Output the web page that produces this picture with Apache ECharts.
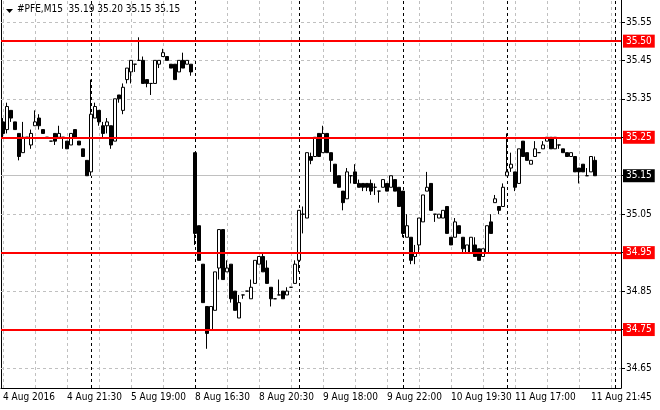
<!DOCTYPE html>
<html>
<head>
<meta charset="utf-8">
<script src="https://cdn.jsdelivr.net/npm/echarts@6/dist/echarts.min.js"></script>
<style>
html,body{margin:0;padding:0;background:#fff;}
#main{width:660px;height:410px;}
</style>
</head>
<body>
<div id="main"></div>
<script>
// 每根K线: [开盘, 收盘, 最低, 最高]  (M15)
var aug4 = [
  [35.29,35.26,35.25,35.30],[35.27,35.33,35.26,35.34],[35.32,35.30,35.29,35.32],[35.29,35.27,35.27,35.29],
  [35.26,35.20,35.19,35.26],[35.21,35.25,35.21,35.29],[35.25,35.25,35.25,35.25],[35.23,35.26,35.22,35.27],
  [35.28,35.29,35.28,35.32],[35.30,35.28,35.27,35.31],[35.27,35.26,35.26,35.27],[35.25,35.25,35.25,35.25],
  [35.24,35.24,35.24,35.24],[35.26,35.24,35.23,35.26],[35.25,35.26,35.25,35.28],[35.25,35.25,35.22,35.25],
  [35.24,35.22,35.22,35.24],[35.23,35.26,35.23,35.26],[35.27,35.25,35.25,35.27],[35.24,35.23,35.23,35.24],
  [35.22,35.20,35.20,35.22],[35.19,35.15,35.15,35.19]
];
var aug5 = [
  [35.16,35.31,35.15,35.40],[35.30,35.33,35.30,35.34],[35.32,35.29,35.28,35.32],[35.28,35.26,35.25,35.29],
  [35.28,35.29,35.26,35.30],[35.28,35.23,35.22,35.28],[35.24,35.35,35.24,35.35],[35.36,35.35,35.34,35.36],
  [35.32,35.38,35.31,35.39],[35.40,35.43,35.39,35.43],[35.42,35.45,35.39,35.45],[35.44,35.44,35.42,35.44],
  [35.45,35.45,35.45,35.51],[35.45,35.39,35.39,35.46],[35.40,35.39,35.38,35.40],[35.39,35.39,35.36,35.39],
  [35.39,35.45,35.39,35.45],[35.44,35.45,35.43,35.45],[35.46,35.47,35.46,35.48],[35.46,35.45,35.45,35.46],
  [35.44,35.43,35.43,35.44],[35.44,35.40,35.40,35.44],[35.42,35.45,35.42,35.45],[35.45,35.43,35.43,35.47],
  [35.44,35.45,35.44,35.45],[35.44,35.42,35.41,35.44]
];
var aug8 = [
  [35.21,35.00,34.97,35.21],[35.02,34.93,34.93,35.02],[34.92,34.82,34.82,34.92],[34.81,34.74,34.70,34.81],
  [34.75,34.81,34.75,34.81],[34.80,34.90,34.80,34.90],[34.91,35.01,34.88,35.01],[35.01,34.88,34.88,35.01],
  [34.90,34.91,34.90,34.93],[34.92,34.83,34.82,34.92],[34.85,34.80,34.80,34.85],[34.78,34.82,34.78,34.84],
  [34.84,34.84,34.83,34.84],[34.85,34.85,34.85,34.85],[34.83,34.86,34.83,34.88],[34.87,34.93,34.87,34.93],
  [34.92,34.94,34.92,34.94],[34.94,34.90,34.90,34.95],[34.91,34.87,34.87,34.93],[34.86,34.83,34.81,34.86],
  [34.83,34.83,34.83,34.83],[34.84,34.84,34.84,34.88],[34.85,34.83,34.83,34.85],[34.84,34.85,34.84,34.86],
  [34.86,34.86,34.86,34.86],[34.87,34.92,34.87,34.93]
];
var aug9 = [
  [34.93,35.06,34.90,35.06],[35.05,35.05,35.00,35.07],[35.04,35.21,35.04,35.21],[35.20,35.19,35.18,35.21],
  [35.20,35.25,35.20,35.25],[35.26,35.20,35.20,35.26],[35.21,35.26,35.21,35.28],[35.26,35.21,35.21,35.26],
  [35.21,35.19,35.16,35.21],[35.18,35.13,35.13,35.18],[35.15,35.12,35.12,35.15],[35.11,35.08,35.06,35.11],
  [35.09,35.16,35.09,35.17],[35.15,35.15,35.13,35.15],[35.16,35.13,35.13,35.18],[35.13,35.12,35.12,35.14],
  [35.13,35.12,35.11,35.13],[35.13,35.12,35.11,35.13],[35.13,35.11,35.10,35.14],[35.12,35.12,35.10,35.13],
  [35.11,35.11,35.08,35.11],[35.12,35.14,35.12,35.14],[35.13,35.11,35.11,35.13],[35.12,35.15,35.12,35.15],
  [35.14,35.11,35.11,35.14],[35.12,35.07,35.07,35.12]
];
var aug10 = [
  [35.11,35.00,34.99,35.11],[34.99,35.02,34.99,35.05],[34.99,34.93,34.92,34.99],[34.94,34.95,34.92,34.97],
  [34.97,35.04,34.95,35.04],[35.03,35.10,35.03,35.10],[35.11,35.12,35.11,35.16],[35.13,35.06,35.06,35.13],
  [35.05,35.05,35.03,35.05],[35.04,35.05,35.04,35.05],[35.04,35.06,35.04,35.06],[35.07,35.00,35.00,35.07],
  [34.99,34.97,34.97,34.99],[34.99,35.03,34.99,35.04],[35.02,35.00,35.00,35.02],[34.99,34.96,34.95,34.99],
  [34.95,34.97,34.95,34.97],[34.95,34.99,34.95,34.99],[34.97,34.94,34.94,34.99],[34.96,34.93,34.93,34.96],
  [34.94,34.96,34.94,34.96],[34.95,35.02,34.95,35.02],[35.03,35.00,35.00,35.05],[35.08,35.09,35.08,35.10],
  [35.07,35.06,35.05,35.07],[35.07,35.12,35.07,35.13]
];
var aug11 = [
  [35.15,35.16,35.15,35.26],[35.17,35.18,35.16,35.21],[35.16,35.12,35.11,35.16],[35.13,35.22,35.13,35.22],
  [35.24,35.20,35.20,35.24],[35.21,35.19,35.19,35.21],[35.18,35.19,35.18,35.19],[35.20,35.22,35.20,35.24],
  [35.21,35.21,35.21,35.21],[35.22,35.23,35.22,35.24],[35.24,35.25,35.24,35.25],[35.25,35.22,35.22,35.25],
  [35.22,35.25,35.22,35.25],[35.23,35.23,35.22,35.23],[35.22,35.21,35.21,35.22],[35.21,35.20,35.20,35.21],
  [35.20,35.21,35.20,35.21],[35.20,35.16,35.16,35.20],[35.17,35.16,35.13,35.17],[35.18,35.16,35.16,35.18],
  [35.15,35.15,35.15,35.17],[35.16,35.20,35.16,35.20],[35.19,35.15,35.15,35.20]
];

// 时间轴标签 (K线序号 / 文字)
var tickIdx  = [0, 16, 32, 48, 64, 80, 96, 112, 128, 147];
var tickText = ['4 Aug 2016','4 Aug 21:30','5 Aug 19:00','8 Aug 16:30','8 Aug 20:30',
                '9 Aug 18:00','9 Aug 22:00','10 Aug 19:30','11 Aug 17:00','11 Aug 21:45'];
// 价格轴刻度
var priceTicks = [34.65, 34.75, 34.85, 34.95, 35.05, 35.15, 35.25, 35.35, 35.45, 35.55];
// 水平线 (红色)
var levels = [35.50, 35.25, 34.95, 34.75];
// 日分隔线 (每天 16:30 那根K线)
var dayStarts = [22, 48, 74, 100, 126, 153];
var gridEvery = 8;      // 竖向网格每 8 根
var slotCount = 155;    // 右侧留空

var candles = aug4.concat(aug5, aug8, aug9, aug10, aug11);
var last = candles[candles.length - 1];

var cats = [];
for (var i = 0; i < slotCount; i++) cats.push('k' + i);

var font = '"DejaVu Sans Condensed","DejaVu Sans",sans-serif';

var gridLines = [];
for (var j = 0; j < priceTicks.length; j++) gridLines.push({yAxis: priceTicks[j]});
for (var k = 0; k < slotCount; k += gridEvery) gridLines.push({xAxis: k});

var sepLines = [];
for (var d = 0; d < dayStarts.length; d++) sepLines.push({xAxis: dayStarts[d]});

var levelLines = [];
for (var m = 0; m < levels.length; m++) levelLines.push({yAxis: levels[m]});

var myChart = echarts.init(document.getElementById('main'));
myChart.setOption({
  animation: false,
  backgroundColor: '#fff',
  grid: {left: 1, right: 39, top: 0, bottom: 22},
  xAxis: {
    type: 'category',
    data: cats,
    boundaryGap: true,
    axisLine: {onZero: false, lineStyle: {color: '#000', width: 1}},
    axisTick: {
      alignWithLabel: true, length: 4, lineStyle: {color: '#000'},
      interval: function (i) { return tickIdx.indexOf(i) >= 0; }
    },
    axisLabel: {
      interval: function (i) { return tickIdx.indexOf(i) >= 0; },
      formatter: function (v, i) { return tickText[tickIdx.indexOf(i)] || ''; },
      align: 'left', color: '#000', fontSize: 10, fontFamily: font, margin: 4
    },
    splitLine: {show: false}
  },
  yAxis: [{
    type: 'value',
    position: 'right',
    min: 34.598, max: 35.607,
    axisLine: {show: true, lineStyle: {color: '#000'}},
    axisTick: {show: true, length: 4, customValues: priceTicks, lineStyle: {color: '#000'}},
    axisLabel: {
      customValues: priceTicks,
      formatter: function (v) { return v.toFixed(2); },
      color: '#000', fontSize: 10, fontFamily: font, margin: 5
    },
    splitLine: {show: false}
  }, {
    type: 'value',
    position: 'left',
    axisLine: {show: true, onZero: false, lineStyle: {color: '#000'}},
    axisTick: {show: false}, axisLabel: {show: false}, splitLine: {show: false}
  }],
  graphic: [
    {type: 'polygon', shape: {points: [[6, 9], [13, 9], [9.5, 13]]}, style: {fill: '#000'}},
    {type: 'text', left: 17, top: 4, style: {
      text: '#PFE,M15  ' + last[0].toFixed(2) + ' ' + last[3].toFixed(2) + ' ' +
            last[2].toFixed(2) + ' ' + last[1].toFixed(2),
      font: '10px ' + font, fill: '#000'}}
  ],
  series: [
    {   // 网格
      type: 'line', data: [], silent: true, z: 1,
      markLine: {
        z: 1, silent: true, symbol: ['none', 'none'], animation: false,
        label: {show: false},
        lineStyle: {color: '#c0c0c0', type: [3, 3], width: 1},
        data: gridLines
      }
    },
    {   // 日分隔线 + 买价线
      type: 'line', data: [], silent: true, z: 1,
      markLine: {
        z: 1, silent: true, symbol: ['none', 'none'], animation: false,
        label: {show: false},
        lineStyle: {color: '#000', type: [3, 3], width: 1},
        data: sepLines.concat([{
          yAxis: last[1],
          lineStyle: {color: '#c0c0c0', type: 'solid'},
          label: {
            show: true, position: 'end', distance: 2,
            formatter: function (p) { return p.value.toFixed(2); },
            color: '#fff', backgroundColor: '#000', padding: [2, 3, 1, 3],
            fontSize: 10, fontFamily: font
          }
        }])
      }
    },
    {
      name: 'PFE',
      type: 'candlestick',
      data: candles,
      barWidth: 3,
      z: 2,
      itemStyle: {
        color: '#fff', color0: '#000',
        borderColor: '#000', borderColor0: '#000', borderWidth: 1
      }
    },
    {   // 红色水平线
      type: 'line', data: [], silent: true, z: 5,
      markLine: {
        z: 5, silent: true, symbol: ['none', 'none'], animation: false,
        lineStyle: {color: '#ff0000', type: 'solid', width: 2},
        label: {
          show: true, position: 'end', distance: 2,
          formatter: function (p) { return p.value.toFixed(2); },
          color: '#fff', backgroundColor: '#ff0000', padding: [2, 3, 1, 3],
          fontSize: 10, fontFamily: font
        },
        data: levelLines
      }
    }
  ]
});
</script>
</body>
</html>
